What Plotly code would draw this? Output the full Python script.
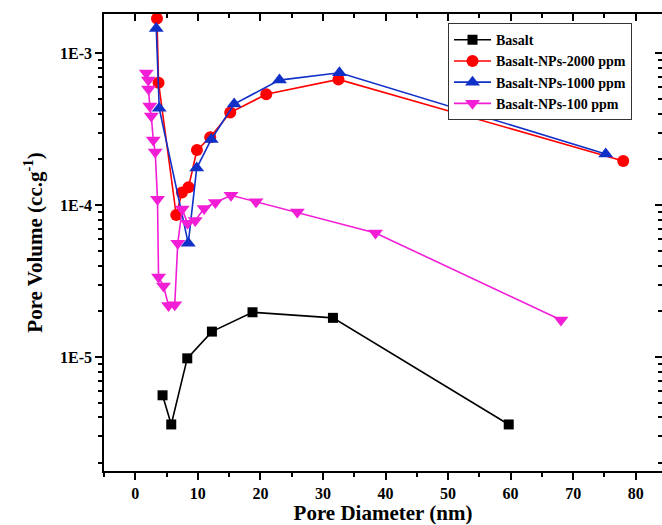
import plotly.graph_objects as go

# ---- data ----
basalt_x = [4.36, 5.75, 8.31, 12.25, 18.74, 31.6, 59.7]
basalt_y = [5.6e-6, 3.6e-6, 9.8e-6, 1.47e-5, 1.97e-5, 1.81e-5, 3.6e-6]

np2000_x = [3.47, 3.72, 6.55, 7.46, 8.51, 9.86, 11.98, 15.18, 20.93, 32.48, 78.0]
np2000_y = [1.69e-3, 6.38e-4, 8.6e-5, 1.21e-4, 1.31e-4, 2.30e-4, 2.79e-4, 4.06e-4, 5.35e-4, 6.71e-4, 1.95e-4]

np1000_x = [3.35, 3.83, 8.47, 9.82, 12.14, 15.81, 23.05, 32.64, 75.2]
np1000_y = [1.45e-3, 4.33e-4, 5.6e-5, 1.75e-4, 2.70e-4, 4.62e-4, 6.64e-4, 7.42e-4, 2.17e-4]

np100_x = [1.76, 2.08, 2.12, 2.32, 2.56, 2.88, 3.19, 3.55, 3.72, 4.52, 5.32, 6.31, 6.79,
           7.5, 8.34, 9.58, 11.0, 12.8, 15.3, 19.3, 25.9, 38.4, 68.05]
np100_y = [7.38e-4, 6.64e-4, 5.80e-4, 4.48e-4, 3.85e-4, 2.68e-4, 2.23e-4, 1.09e-4, 3.36e-5,
           2.93e-5, 2.18e-5, 2.21e-5, 5.6e-5, 9.4e-5, 7.6e-5, 7.9e-5, 9.5e-5, 1.04e-4,
           1.16e-4, 1.05e-4, 9.0e-5, 6.55e-5, 1.75e-5]

names = ["Basalt", "Basalt-NPs-2000 ppm", "Basalt-NPs-1000 ppm", "Basalt-NPs-100 ppm"]
colors = ["#000000", "#FF0000", "#1030C8", "#F21ED6"]
symbols = ["square", "circle", "triangle-up", "triangle-down"]
sizes = [10, 12, 13, 13]

x_range = [-5, 84.2]
y_range = [-5.75, -2.743]

FONT = "Liberation Serif"

fig = go.Figure()
for xs, ys, n, c, s, sz in zip([basalt_x, np2000_x, np1000_x, np100_x],
                              [basalt_y, np2000_y, np1000_y, np100_y],
                              names, colors, symbols, sizes):
    fig.add_trace(go.Scatter(x=xs, y=ys, mode="lines+markers", name="<b>%s</b>" % n,
                             line=dict(color=c, width=1.6),
                             marker=dict(symbol=s, size=sz, color=c)))

# invisible trace for the mirrored (top/right) axes
fig.add_trace(go.Scatter(x=[0], y=[1e-4], xaxis="x2", yaxis="y2", showlegend=False,
                         mode="markers", marker=dict(opacity=0), hoverinfo="skip"))

minor_y = []
for e in [-6, -5, -4, -3]:
    for m in range(2, 10):
        minor_y.append(m * 10 ** e)

major_y = [1e-5, 1e-4, 1e-3]
major_y_text = ["1E-5", "1E-4", "1E-3"]
major_x = list(range(0, 90, 10))

tickfont = dict(family=FONT, size=16, color="black")

fig.update_layout(
    width=662, height=525,
    margin=dict(l=104, r=0, t=14, b=54),
    paper_bgcolor="white", plot_bgcolor="white",
    font=dict(family=FONT, color="black"),
    xaxis=dict(range=x_range, showgrid=False, zeroline=False,
               showline=True, linecolor="black", linewidth=1.5,
               ticks="outside", ticklen=7, tickwidth=1.5, tickcolor="black",
               tickvals=major_x, ticktext=["<b>%d</b>" % v for v in major_x], tickfont=tickfont,
               minor=dict(dtick=5, tick0=0, ticks="outside", ticklen=4, tickwidth=1.5, tickcolor="black"),
               title=dict(text="<b>Pore Diameter (nm)</b>", font=dict(family=FONT, size=21), standoff=2)),
    yaxis=dict(type="log", range=y_range, showgrid=False, zeroline=False,
               showline=True, linecolor="black", linewidth=1.5,
               ticks="outside", ticklen=7, tickwidth=1.5, tickcolor="black",
               tickvals=major_y, ticktext=["<b>%s</b>" % t for t in major_y_text], tickfont=tickfont,
               minor=dict(tickvals=minor_y, ticks="outside", ticklen=4, tickwidth=1.5, tickcolor="black"),
               title=dict(text="<b>Pore Volume (cc.g<sup>-1</sup>)</b>", font=dict(family=FONT, size=21), standoff=12)),
    xaxis2=dict(range=x_range, overlaying="x", side="top", showgrid=False, zeroline=False,
                showline=True, linecolor="black", linewidth=1.5,
                ticks="inside", ticklen=7, tickwidth=1.5, tickcolor="black",
                tickvals=major_x, showticklabels=False,
                minor=dict(dtick=5, tick0=0, ticks="inside", ticklen=4, tickwidth=1.5, tickcolor="black")),
    yaxis2=dict(type="log", range=y_range, overlaying="y", side="right", showgrid=False, zeroline=False,
                showline=True, linecolor="black", linewidth=1.5,
                ticks="inside", ticklen=7, tickwidth=1.5, tickcolor="black",
                tickvals=major_y, showticklabels=False,
                minor=dict(tickvals=minor_y, ticks="inside", ticklen=4, tickwidth=1.5, tickcolor="black")),
    legend=dict(x=0.6165, y=0.98, xanchor="left", yanchor="top",
                bgcolor="white", bordercolor="#333333", borderwidth=1,
                font=dict(family=FONT, size=14, color="black"),
                tracegroupgap=0, itemwidth=37),
)

fig.write_html("out.html")
